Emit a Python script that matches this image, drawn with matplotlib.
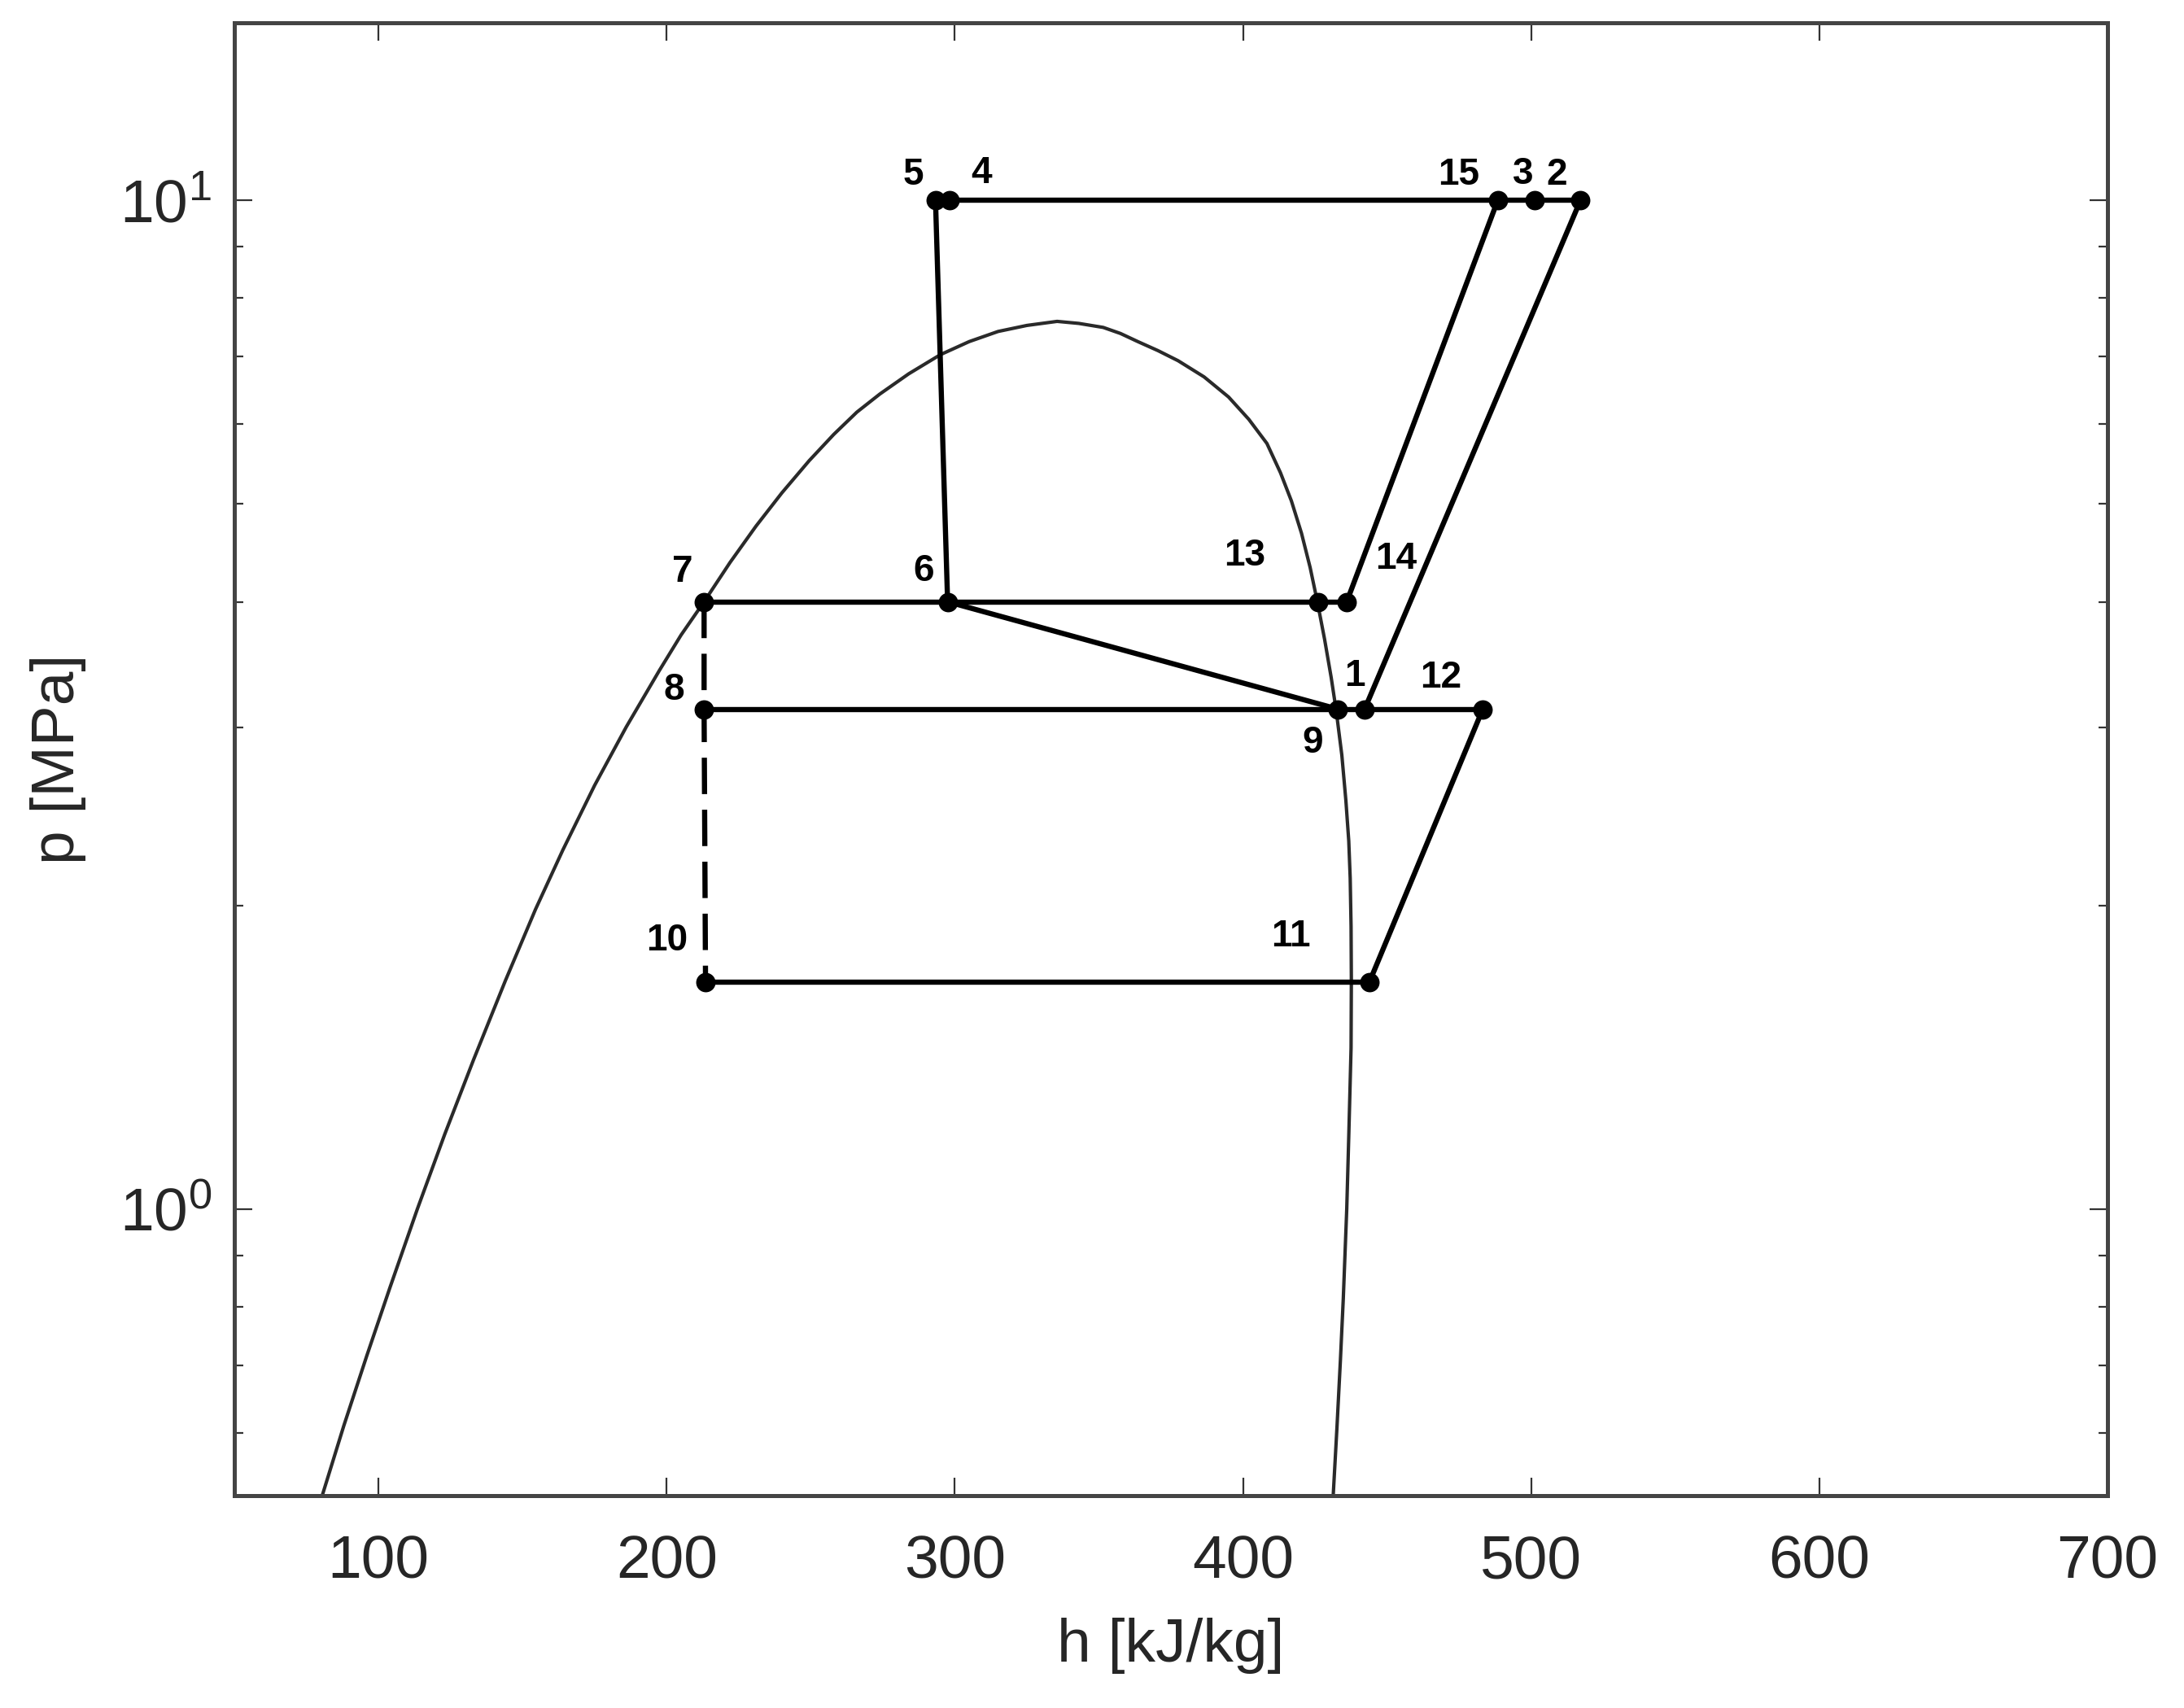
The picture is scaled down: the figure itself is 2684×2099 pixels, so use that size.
import matplotlib
matplotlib.use('Agg')
import matplotlib.pyplot as plt
from matplotlib.ticker import NullFormatter, FixedLocator

plt.rcParams['font.family'] = ['Liberation Sans', 'DejaVu Sans']
plt.rcParams['mathtext.default'] = 'regular'

"""
data read off the p-h chart (CO2 cycle)
"""

# saturation dome, from the liquid foot over the top to the vapour foot
dome_h = [80.5, 88.0, 96.0, 104.0, 113.5, 123.0, 133.0, 144.0, 154.5, 164.0,
          175.0, 186.0, 197.5, 205.0, 213.0, 222.0, 231.0, 240.0, 249.5, 258.0,
          266.0, 274.0, 284.0, 295.0, 305.0, 315.0, 325.0, 335.5,
          343.0, 351.5, 357.5, 363.5, 370.5, 377.5, 386.5, 395.0, 402.0, 408.3,
          413.0, 416.8, 420.3, 423.3, 425.8, 428.3, 430.6, 432.3, 434.3, 435.7,
          436.7, 437.2, 437.5, 437.6, 437.5, 436.7, 436.0, 434.8, 433.8, 432.6,
          431.3]
dome_p = [0.520, 0.610, 0.716, 0.836, 1.000, 1.186, 1.406, 1.683, 1.982, 2.270,
          2.630, 3.006, 3.420, 3.707, 4.000, 4.375, 4.753, 5.129, 5.521, 5.861,
          6.166, 6.427, 6.730, 7.031, 7.244, 7.413, 7.516, 7.586,
          7.551, 7.482, 7.379, 7.244, 7.096, 6.934, 6.683, 6.383, 6.067, 5.741,
          5.370, 5.035, 4.677, 4.325, 4.000, 3.673, 3.365, 3.126, 2.818, 2.541,
          2.317, 2.128, 1.905, 1.683, 1.445, 1.180, 1.000, 0.815, 0.708, 0.607,
          0.520]

# cycle state points 1..15
state_labels = ['1', '2', '3', '4', '5', '6', '7', '8', '9', '10',
                '11', '12', '13', '14', '15']
state_h = [442.2, 517.1, 501.1, 298.3, 293.3, 297.5, 213.0, 213.0, 433.0, 213.5,
           443.9, 483.2, 426.0, 436.0, 488.4]
state_p = [3.13, 10.0, 10.0, 10.0, 10.0, 4.0, 4.0, 3.13, 3.13, 1.68,
           1.68, 3.13, 4.0, 4.0, 10.0]

# connections between states
solid_paths = [[5, 4, 15, 3, 2], [5, 6], [6, 9], [7, 6, 13, 14], [14, 15],
               [1, 2], [8, 9, 1, 12], [12, 11], [10, 11]]
dashed_paths = [[7, 8, 10]]

x_ticks = [100, 200, 300, 400, 500, 600, 700]

# label offsets in pixels (dx right, dy up)
label_offsets = {'1': (-12, 41), '2': (-29, 31), '3': (-14, 32), '4': (39, 33),
                 '5': (-27, 31), '6': (-29, 38), '7': (-27, 37), '8': (-37, 24),
                 '9': (-31, -41), '10': (-47, 51), '11': (-97, 56),
                 '12': (-52, 39), '13': (-90, 57), '14': (61, 53),
                 '15': (-48, 31)}


def path_xy(path):
    xs = [state_h[i - 1] for i in path]
    ys = [state_p[i - 1] for i in path]
    return xs, ys


def main():
    dpi = 200
    px = 72.0 / dpi
    fig = plt.figure(figsize=(13.42, 10.495), dpi=dpi)
    ax = fig.add_axes([0.1073, 0.1244, 0.8577, 0.8623])
    ax.set_yscale('log')

    ax.plot(dome_h, dome_p, color='#2a2a2a', lw=1.5, zorder=1)

    for path in solid_paths:
        xs, ys = path_xy(path)
        ax.plot(xs, ys, color='black', lw=2.3, zorder=2, solid_capstyle='butt')
    for path in dashed_paths:
        xs, ys = path_xy(path)
        ax.plot(xs, ys, color='black', lw=2.3, dashes=(7, 3), zorder=2)

    ax.plot(state_h, state_p, 'o', color='black', ms=7.6, zorder=3, lw=0)

    for lbl, h, p in zip(state_labels, state_h, state_p):
        dx, dy = label_offsets[lbl]
        ax.annotate(lbl, (h, p), xytext=(dx * px, dy * px),
                    textcoords='offset points', ha='center', va='center',
                    fontsize=16.5, fontweight='bold', color='black')

    ax.set_xlim(50, 700)
    ax.set_ylim(0.52, 15)
    ax.xaxis.set_major_locator(FixedLocator(x_ticks))
    ax.yaxis.set_minor_formatter(NullFormatter())

    ax.tick_params(which='both', direction='in', top=True, right=True,
                   color='#333333', labelcolor='#262626', labelsize=27)
    ax.tick_params(which='major', length=8, width=0.8)
    ax.tick_params(which='minor', length=4, width=0.8)
    ax.tick_params(axis='x', pad=17)
    ax.tick_params(axis='y', pad=10)
    for s in ax.spines.values():
        s.set_linewidth(1.8)
        s.set_color('#444444')

    ax.set_xlabel('h [kJ/kg]', fontsize=27, color='#262626')
    ax.set_ylabel('p [MPa]', fontsize=27, color='#262626')
    ax.xaxis.set_label_coords(0.5, -0.083)
    ax.yaxis.set_label_coords(-0.079, 0.5)

    fig.savefig('out.png', dpi=dpi)


if __name__ == '__main__':
    main()
